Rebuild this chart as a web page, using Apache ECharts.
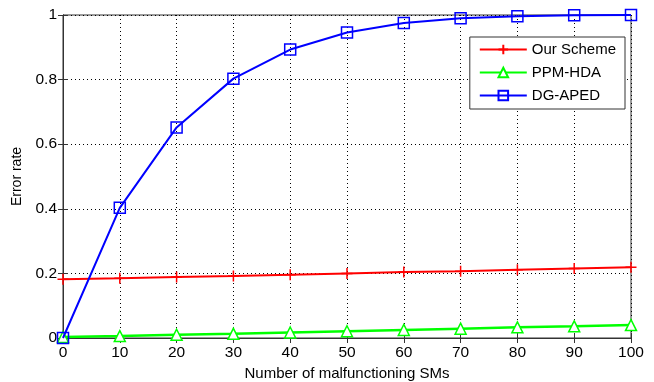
<!DOCTYPE html>
<html><head><meta charset="utf-8">
<script src="https://cdn.jsdelivr.net/npm/echarts@6/dist/echarts.min.js"></script>
<style>html,body{margin:0;padding:0;background:#fff}#c{width:654px;height:382px}</style>
</head><body><div id="c"></div>
<script>
const categories = [0,10,20,30,40,50,60,70,80,90,100];
const ourScheme = [0.182,0.185,0.189,0.192,0.196,0.200,0.204,0.207,0.211,0.215,0.219];
const ppmHda = [0.003,0.006,0.010,0.013,0.017,0.021,0.025,0.029,0.033,0.036,0.040];
const dgAped = [0.0,0.403,0.652,0.803,0.893,0.946,0.975,0.990,0.996,0.999,1.0];
const yTicks = [0,0.2,0.4,0.6,0.8,1];

const font = 'Liberation Sans, Arial, sans-serif';
const pair = a => a.map((v,i)=>[categories[i], v]);
const chart = echarts.init(document.getElementById('c'));
const plus = 'path://M5,0 L5,10 M0,5 L10,5';
chart.setOption({
  animation:false,
  backgroundColor:'#fff',
  grid:{left:63,right:23,top:15,bottom:44,show:true,borderColor:'#333',borderWidth:1,
        containLabel:false, outerBoundsMode:'none'},
  legend:{
    right:29, top:37, orient:'vertical', itemWidth:47, itemHeight:12, itemGap:8,
    borderColor:'#333', borderWidth:1, backgroundColor:'#fff', padding:[5,9,6,9],
    textStyle:{fontFamily:font,fontSize:15,color:'#000',lineHeight:14},
    data:['Our Scheme','PPM-HDA','DG-APED']
  },
  xAxis:[{
    type:'value', min:0, max:100, interval:10,
    name:'Number of malfunctioning SMs', nameLocation:'middle', nameGap:27,
    nameTextStyle:{fontFamily:font,fontSize:15,color:'#000'},
    axisLine:{lineStyle:{color:'#333'}},
    axisTick:{inside:true,length:5,lineStyle:{color:'#333'}},
    axisLabel:{fontFamily:font,fontSize:15.5,color:'#000',margin:7},
    splitLine:{show:true,lineStyle:{color:'#000',type:[1,3],width:1}}
  },{
    type:'value', min:0, max:100, interval:10, position:'top',
    axisLine:{lineStyle:{color:'#333'}}, axisTick:{inside:true,length:5,lineStyle:{color:'#333'}},
    axisLabel:{show:false}, splitLine:{show:false}
  }],
  yAxis:[{
    type:'value', min:0, max:1, interval:0.2,
    name:'Error rate', nameLocation:'middle', nameGap:33,
    nameTextStyle:{fontFamily:font,fontSize:14,color:'#000'},
    axisLine:{show:true,lineStyle:{color:'#333'}},
    axisTick:{show:true,inside:true,length:5,lineStyle:{color:'#333'}},
    axisLabel:{fontFamily:font,fontSize:15.5,color:'#000',margin:6,
      formatter:v=>{const t=yTicks.find(x=>Math.abs(x-v)<1e-9);return t===undefined?'':String(t);}},
    splitLine:{show:true,lineStyle:{color:'#000',type:[1,3],width:1}}
  },{
    type:'value', min:0, max:1, interval:0.2, position:'right',
    axisLine:{show:true,lineStyle:{color:'#333'}},
    axisTick:{show:true,inside:true,length:5,lineStyle:{color:'#333'}},
    axisLabel:{show:false}, splitLine:{show:false}
  }],
  series:[
    {name:'Our Scheme',type:'line',data:pair(ourScheme),symbol:plus,symbolSize:11,showAllSymbol:true,
     lineStyle:{color:'#ff0000',width:2},
     itemStyle:{color:'rgba(0,0,0,0)',borderColor:'#ff0000',borderWidth:1.5},z:3},
    {name:'PPM-HDA',type:'line',data:pair(ppmHda),symbol:'triangle',symbolSize:11,showAllSymbol:true,
     lineStyle:{color:'#00ff00',width:2.5},
     itemStyle:{color:'#fff',borderColor:'#00ff00',borderWidth:1.5},z:3},
    {name:'DG-APED',type:'line',data:pair(dgAped),symbol:'rect',symbolSize:11,showAllSymbol:true,
     lineStyle:{color:'#0000ff',width:2},
     itemStyle:{color:'rgba(0,0,0,0)',borderColor:'#0000ff',borderWidth:1.5},z:4}
  ]
});
</script></body></html>
